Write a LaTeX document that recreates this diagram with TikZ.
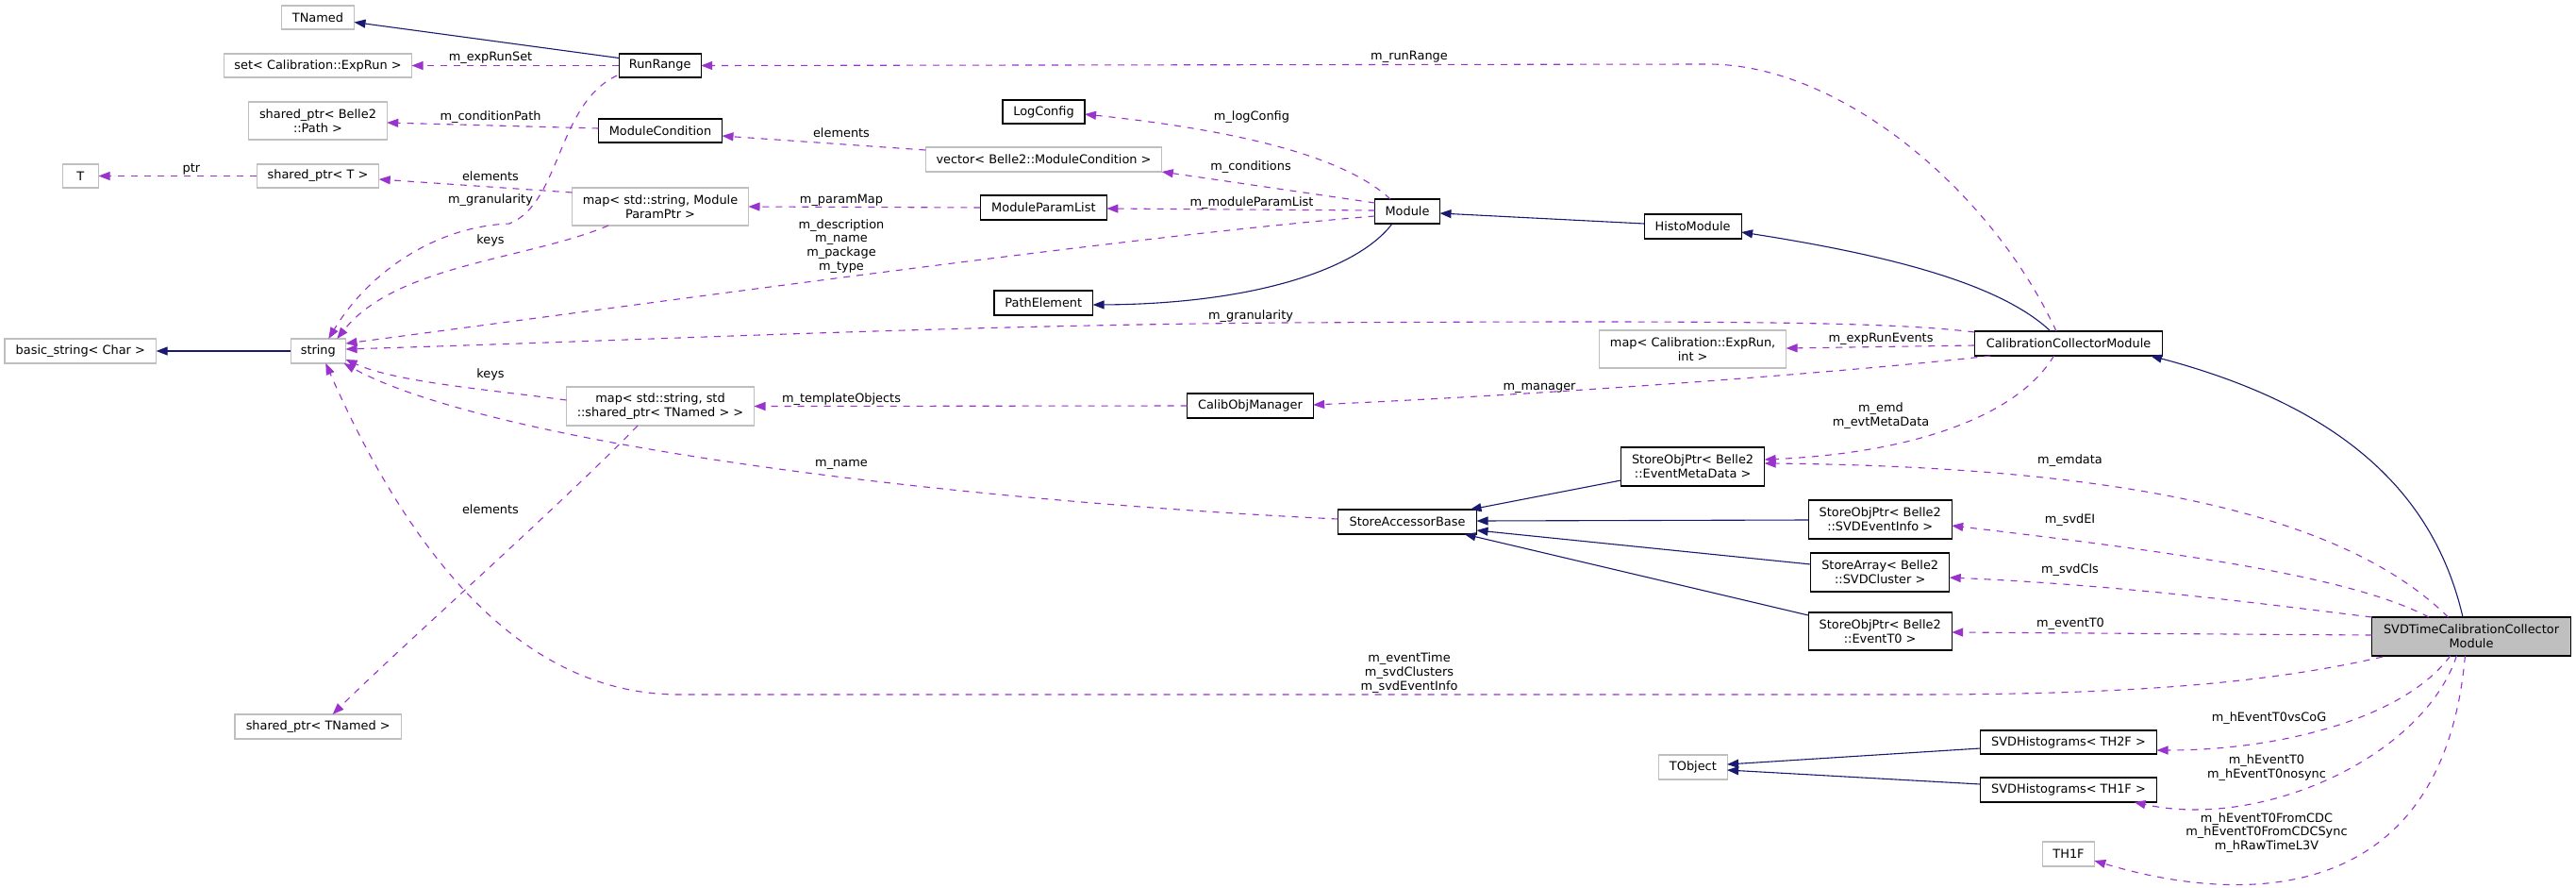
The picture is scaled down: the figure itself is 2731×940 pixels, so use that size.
\documentclass[tikz,border=0pt]{standalone}
\usepackage{fontspec}
\setmainfont{DejaVu Sans}
\usetikzlibrary{arrows.meta,calc}
\definecolor{navyedge}{HTML}{191970}
\definecolor{orchidedge}{HTML}{9A32CD}
\definecolor{boxgray}{HTML}{BFBFBF}
\begin{document}
\begin{tikzpicture}[x=1pt,y=-1pt,
  font=\fontsize{12.9}{14.8}\selectfont,
  base/.style={rectangle, inner sep=0pt, outer sep=0pt, align=center, fill=white, line width=1.1pt},
  gbox/.style={base, draw=boxgray},
  bbox/.style={base, draw=black},
  mbox/.style={base, draw=black, fill=boxgray},
  inh/.style={draw=navyedge, line width=1.1pt, -{Triangle[length=12pt,width=9pt]}},
  use/.style={draw=orchidedge, line width=1.1pt, dash pattern=on 7pt off 7pt, -{Triangle[length=12pt,width=9pt]}},
  lbl/.style={inner sep=0pt, align=center, text=black}
]
\useasboundingbox (0,0) rectangle (2731,940);
\fill[white] (0,0) rectangle (2731,940);

% ---- nodes ----
\node[gbox, minimum width=77pt, minimum height=25pt] (tnamed) at (337,18.5) {TNamed};
\node[gbox, minimum width=199pt, minimum height=25pt] (setexp) at (337,69.5) {set< Calibration::ExpRun >};
\node[gbox, minimum width=146.5pt, minimum height=40pt] (spath) at (337,128) {shared\_ptr< Belle2\\::Path >};
\node[gbox, minimum width=38.5pt, minimum height=25pt] (tT) at (85.3,186.5) {T};
\node[gbox, minimum width=129.5pt, minimum height=25pt] (spT) at (337,186.5) {shared\_ptr< T >};
\node[gbox, minimum width=160.7pt, minimum height=26pt] (bstr) at (85.3,372) {basic\_string< Char >};
\node[gbox, minimum width=58.5pt, minimum height=26pt] (str) at (337.3,372) {string};
\node[gbox, minimum width=176.4pt, minimum height=26pt] (spTN) at (337.2,770) {shared\_ptr< TNamed >};
\node[bbox, minimum width=87pt, minimum height=25pt] (rr) at (699.7,69.5) {RunRange};
\node[bbox, minimum width=131pt, minimum height=25pt] (modcond) at (700,138.5) {ModuleCondition};
\node[gbox, minimum width=187pt, minimum height=40pt] (map1) at (700,219) {map< std::string, Module\\ParamPtr >};
\node[gbox, minimum width=199pt, minimum height=41pt] (map2) at (700,430.5) {map< std::string, std\\::shared\_ptr< TNamed > >};
\node[bbox, minimum width=87pt, minimum height=25pt] (logcfg) at (1106.5,118.5) {LogConfig};
\node[gbox, minimum width=250.5pt, minimum height=26pt] (vec) at (1106.5,169) {vector< Belle2::ModuleCondition >};
\node[bbox, minimum width=134pt, minimum height=26pt] (mpl) at (1106.4,220) {ModuleParamList};
\node[bbox, minimum width=104.6pt, minimum height=26pt] (pathel) at (1106.3,321) {PathElement};
\node[bbox, minimum width=133.5pt, minimum height=26pt] (com) at (1325.4,430) {CalibObjManager};
\node[bbox, minimum width=69pt, minimum height=26pt] (module) at (1492,224) {Module};
\node[bbox, minimum width=147pt, minimum height=26pt] (sab) at (1492,553) {StoreAccessorBase};
\node[bbox, minimum width=103pt, minimum height=26pt] (histo) at (1794.6,240) {HistoModule};
\node[gbox, minimum width=198pt, minimum height=40pt] (mapER) at (1794.6,370) {map< Calibration::ExpRun,\\int >};
\node[bbox, minimum width=152pt, minimum height=41pt] (sopEMD) at (1794.6,494.5) {StoreObjPtr< Belle2\\::EventMetaData >};
\node[gbox, minimum width=72.3pt, minimum height=26pt] (tobj) at (1794.9,813) {TObject};
\node[bbox, minimum width=199.4pt, minimum height=26pt] (ccm) at (2193,364) {CalibrationCollectorModule};
\node[bbox, minimum width=152pt, minimum height=41pt] (sopEI) at (1993.2,550.5) {StoreObjPtr< Belle2\\::SVDEventInfo >};
\node[bbox, minimum width=147pt, minimum height=41pt] (saCl) at (1993.2,606.5) {StoreArray< Belle2\\::SVDCluster >};
\node[bbox, minimum width=152pt, minimum height=40pt] (sopT0) at (1993.2,669) {StoreObjPtr< Belle2\\::EventT0 >};
\node[bbox, minimum width=187pt, minimum height=25pt] (h2f) at (2193,786.5) {SVDHistograms< TH2F >};
\node[bbox, minimum width=187pt, minimum height=26pt] (h1f) at (2193,837) {SVDHistograms< TH1F >};
\node[gbox, minimum width=54.5pt, minimum height=26pt] (th1f) at (2193,905) {TH1F};
\node[mbox, minimum width=211pt, minimum height=41pt] (svdt) at (2620,674.5) {SVDTimeCalibrationCollector\\Module};

% ---- labels ----
\node[lbl] (l_runRange) at (1494,60) {m\_runRange};
\node[lbl] (l_expRunSet) at (520,61) {m\_expRunSet};
\node[lbl] (l_condPath) at (520,124) {m\_conditionPath};
\node[lbl] (l_ptr) at (203,179) {ptr};
\node[lbl] (l_elem1) at (520,187) {elements};
\node[lbl] (l_gran1) at (520,212) {m\_granularity};
\node[lbl] (l_keys1) at (520,255) {keys};
\node[lbl] (l_elem2) at (892,141) {elements};
\node[lbl] (l_paramMap) at (892,212) {m\_paramMap};
\node[lbl] (l_desc) at (892,261) {m\_description\\m\_name\\m\_package\\m\_type};
\node[lbl] (l_logConfig) at (1327,124) {m\_logConfig};
\node[lbl] (l_conditions) at (1326,177) {m\_conditions};
\node[lbl] (l_mpl) at (1327,215) {m\_moduleParamList};
\node[lbl] (l_gran2) at (1326,335) {m\_granularity};
\node[lbl] (l_expRunEvents) at (1994,359) {m\_expRunEvents};
\node[lbl] (l_manager) at (1632,411) {m\_manager};
\node[lbl] (l_templ) at (892,423) {m\_templateObjects};
\node[lbl] (l_keys2) at (520,397) {keys};
\node[lbl] (l_name) at (892,492) {m\_name};
\node[lbl] (l_elem3) at (520,540) {elements};
\node[lbl] (l_emd) at (1994,440.5) {m\_emd\\m\_evtMetaData};
\node[lbl] (l_emdata) at (2194.5,488) {m\_emdata};
\node[lbl] (l_svdEI) at (2194.5,551) {m\_svdEI};
\node[lbl] (l_svdCls) at (2194.5,604) {m\_svdCls};
\node[lbl] (l_eventT0) at (2195,661) {m\_eventT0};
\node[lbl] (l_evtTime) at (1494,713) {m\_eventTime\\m\_svdClusters\\m\_svdEventInfo};
\node[lbl] (l_vsCoG) at (2405.5,761) {m\_hEventT0vsCoG};
\node[lbl] (l_T0) at (2403,814) {m\_hEventT0\\m\_hEventT0nosync};
\node[lbl] (l_CDC) at (2403,882.5) {m\_hEventT0FromCDC\\m\_hEventT0FromCDCSync\\m\_hRawTimeL3V};

% ---- inheritance ----
\draw[inh] ($(rr.west)+(0,-8)$) -- ($(tnamed.east)+(0,5)$);
\draw[inh] (str.west) -- (bstr.east);
\draw[inh] ($(module.south)+(-16,0)$) .. controls (1440,285) and (1330,322) .. ($(pathel.east)+(0,2)$);
\draw[inh] ($(histo.west)+(0,-3)$) -- ($(module.east)+(0,2)$);
\draw[inh] ($(ccm.north)+(-19,0)$) .. controls (2120,300) and (2000,270) .. ($(histo.east)+(0,6)$);
\draw[inh] ($(sopEMD.west)+(0,14.5)$) -- ($(sab.north east)+(-7,0)$);
\draw[inh] ($(sopEI.west)+(0,0.5)$) -- ($(sab.east)+(0,-1)$);
\draw[inh] ($(saCl.west)+(0,-8.5)$) -- ($(sab.east)+(0,9)$);
\draw[inh] ($(sopT0.north west)+(0,3)$) -- ($(sab.south east)+(-13,0)$);
\draw[inh] ($(h2f.west)+(0,6.5)$) -- ($(tobj.east)+(0,-3)$);
\draw[inh] ($(h1f.west)+(0,-6)$) -- ($(tobj.east)+(0,3)$);
\draw[inh] ($(svdt.north)+(-9,0)$) .. controls (2580,520) and (2480,430) .. ($(ccm.south east)+(-12.7,0)$);

% ---- usage ----
\draw[use] ($(ccm.north)+(-13,0)$) .. controls (2110,200) and (1950,68) .. (1811,68) -- (rr.east);
\draw[use] (rr.west) -- (setexp.east);
\draw[use] ($(rr.south west)+(-2,-2)$) .. controls (590,110) and (595,215) .. (540,237) .. controls (460,240) and (390,290) .. ($(str.north)+(11,0)$);
\draw[use] ($(ccm.north west)+(0,1)$) .. controls (2000,340) and (1800,340) .. (1360,342) .. controls (1000,345) and (700,360) .. ($(str.east)+(0,-2)$);
\draw[use] ($(module.west)+(0,5)$) .. controls (1200,250) and (700,320) .. ($(str.east)+(0,-8)$);
\draw[use] ($(map1.south west)+(38.5,0)$) .. controls (560,275) and (420,280) .. ($(str.north)+(20,0)$);
\draw[use] ($(map1.west)+(0,-15)$) -- ($(spT.east)+(0,3.5)$);
\draw[use] (spT.west) -- (tT.east);
\draw[use] ($(modcond.west)+(0,-2.5)$) -- ($(spath.east)+(0,2)$);
\draw[use] ($(vec.west)+(0,-10)$) -- ($(modcond.east)+(0,5.5)$);
\draw[use] (mpl.west) -- (map1.east);
\draw[use] ($(module.north)+(-18,0)$) .. controls (1430,170) and (1330,140) .. ($(logcfg.east)+(0,2.5)$);
\draw[use] ($(module.west)+(0,-9)$) -- (vec.south east);
\draw[use] ($(module.west)+(0,-1)$) -- ($(mpl.east)+(0,1)$);
\draw[use] ($(ccm.west)+(0,2)$) -- ($(mapER.east)+(0,-1)$);
\draw[use] ($(ccm.south west)+(17,0)$) .. controls (2000,390) and (1700,415) .. ($(com.east)+(0,-1)$);
\draw[use] (com.west) -- (map2.east);
\draw[use] ($(map2.west)+(0,-6.5)$) .. controls (520,413) and (420,405) .. ($(str.east)+(0,9)$);
\draw[use] ($(map2.south west)+(75.5,0)$) .. controls (600,530) and (420,690) .. ($(spTN.north)+(15.5,0)$);
\draw[use] ($(sab.west)+(0,-3)$) .. controls (1000,530) and (520,470) .. ($(str.south east)+(-2,0)$);
\draw[use] ($(ccm.south)+(-15.5,0)$) .. controls (2140,440) and (2030,480) .. ($(sopEMD.east)+(0,-7.5)$);
\draw[use] ($(svdt.north west)+(81,0)$) .. controls (2500,560) and (2300,495) .. ($(sopEMD.east)+(0,-3.5)$);
\draw[use] ($(svdt.north west)+(60.5,0)$) .. controls (2500,615) and (2350,590) .. ($(sopEI.east)+(0,6.5)$);
\draw[use] (svdt.north west) .. controls (2400,640) and (2250,620) .. ($(saCl.east)+(0,5.5)$);
\draw[use] ($(svdt.west)+(0,-1.5)$) -- ($(sopT0.east)+(0,1)$);
\draw[use] ($(svdt.south west)+(11.5,1)$) .. controls (2400,725) and (2250,736) .. (2030,736) -- (720,736) .. controls (560,736) and (440,600) .. ($(str.south)+(8,0)$);
\draw[use] ($(svdt.south)+(-22.3,0)$) .. controls (2550,760) and (2420,795) .. ($(h2f.east)+(0,8.5)$);
\draw[use] ($(svdt.south)+(-15.6,0)$) .. controls (2570,800) and (2400,880) .. ($(h1f.south east)+(-24,0)$);
\draw[use] ($(svdt.south)+(-6.6,0)$) .. controls (2590,960) and (2380,960) .. ($(th1f.east)+(0,7)$);
\end{tikzpicture}
\end{document}
